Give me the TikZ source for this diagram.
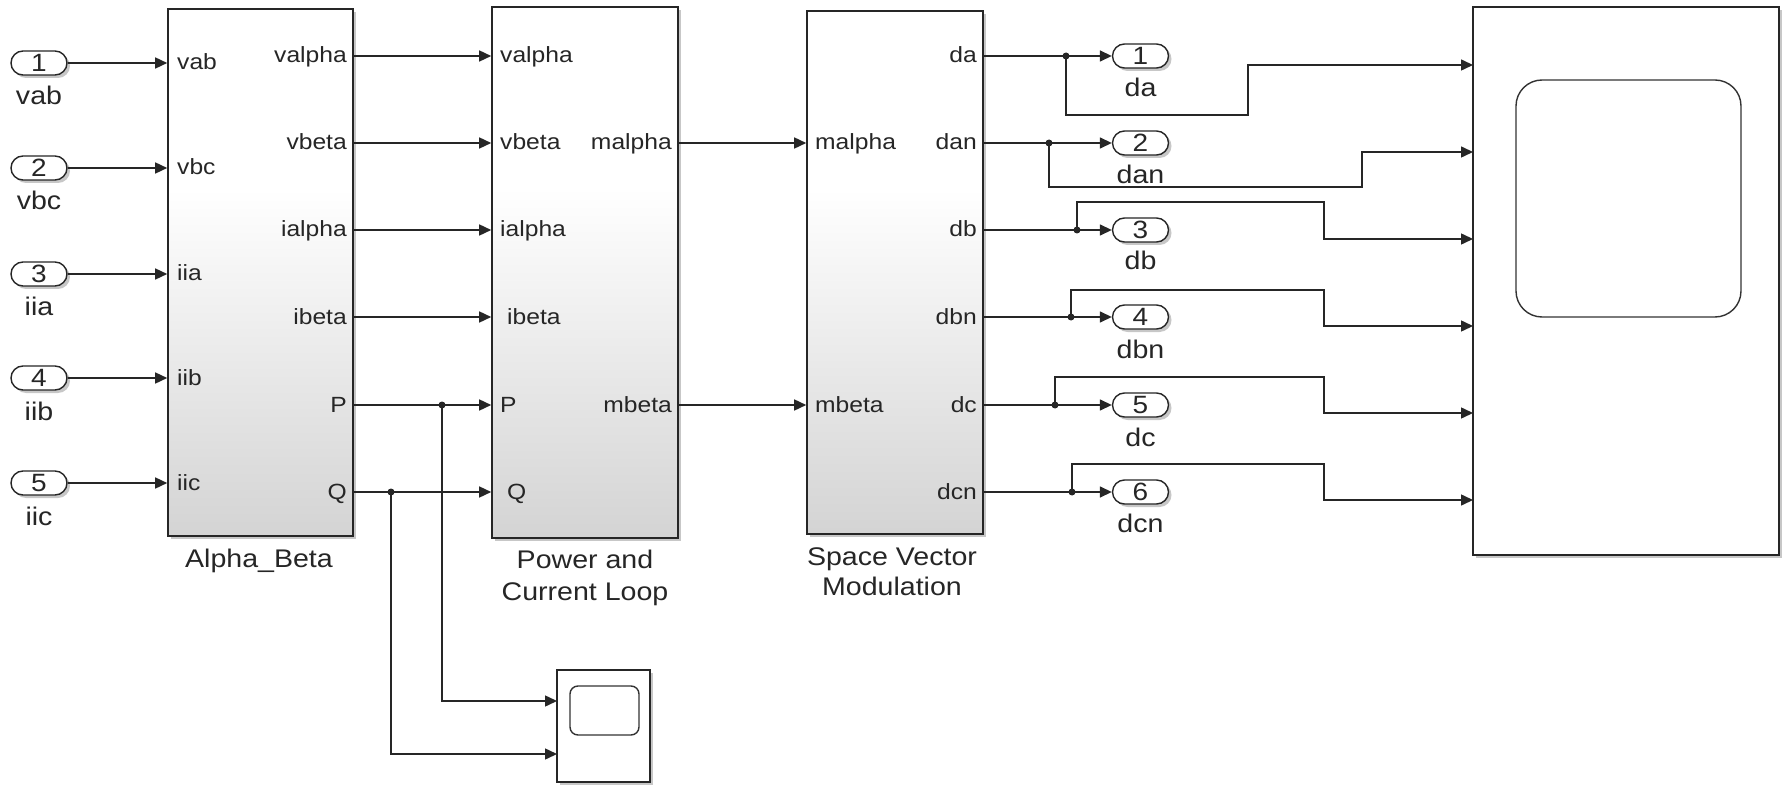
\documentclass[tikz,border=0pt]{standalone}
\usepackage{fontspec}
\setmainfont{Liberation Sans}[FakeStretch=1.12]
\usetikzlibrary{arrows.meta,shapes.misc,shadows,calc}
\pgfdeclareverticalshading{simshade}{100bp}{color(0bp)=(black!17); color(25bp)=(black!17); color(58bp)=(white); color(100bp)=(white)}
\begin{document}
\begin{tikzpicture}[x=1pt,y=-1pt,
  wire/.style={line width=1.5pt, draw=black!85},
  sig/.style={wire, -{Triangle[length=12pt,width=11pt]}},
  shad/.style={drop shadow={shadow xshift=3pt, shadow yshift=-3pt, fill=black, opacity=0.22}},
  blk/.style={rectangle, draw=black!85, line width=1.6pt, shading=simshade, shad, inner sep=0pt},
  scopebox/.style={rectangle, draw=black!85, line width=1.6pt, fill=white, shad, inner sep=0pt},
  screen/.style={rectangle, draw=black!80, line width=1.4pt, inner sep=0pt},
  port/.style={rounded rectangle, draw=black!85, line width=1.4pt, minimum width=56pt, minimum height=24pt, inner sep=0pt, fill=white, shad, font=\fontsize{25}{25}\selectfont, text=black!85},
  plab/.style={font=\fontsize{22}{26}\selectfont, inner sep=0pt, text=black!85},
  nlab/.style={font=\fontsize{25.5}{32}\selectfont, inner sep=0pt, text=black!85, align=center},
  dot/.style={circle, fill=black!85, inner sep=0pt, minimum size=7pt}]
\fill[white] (0,0) rectangle (1788,786);
\useasboundingbox (0,0) rectangle (1788,786);

% rows
\coordinate (r1) at (0,56);
\coordinate (r2) at (0,143);
\coordinate (r3) at (0,230);
\coordinate (r4) at (0,317);
\coordinate (r5) at (0,405);
\coordinate (r6) at (0,492);

% blocks
\node[blk, minimum width=185pt, minimum height=527pt] (ab) at (260.5,272.5) {};
\node[blk, minimum width=186pt, minimum height=531pt] (pw) at (585,272.5) {};
\node[blk, minimum width=176pt, minimum height=523pt] (svm) at (895,272.5) {};
\node[scopebox, minimum width=306pt, minimum height=548pt] (sc) at (1626,281) {};
\node[screen, minimum width=225pt, minimum height=237pt, rounded corners=26pt] (scr) at (1628.5,198.5) {};
\node[scopebox, minimum width=93pt, minimum height=112pt] (ss) at (603.5,726) {};
\node[screen, minimum width=69pt, minimum height=49pt, rounded corners=8pt] (sscr) at (604.5,710.5) {};

% block names
\node[nlab, anchor=base] (abn) at (259,567) {Alpha\_Beta};
\node[nlab, anchor=base] (pwn1) at (585,568) {Power and};
\node[nlab, anchor=base] (pwn2) at (585,600) {Current Loop};
\node[nlab, anchor=base] (svn1) at (892,565) {Space Vector};
\node[nlab, anchor=base] (svn2) at (892,595) {Modulation};

% Alpha_Beta port labels
\node[plab, anchor=base west] (l1) at (177,70) {vab};
\node[plab, anchor=base west] (l2) at (177,175) {vbc};
\node[plab, anchor=base west] (l3) at (177,281) {iia};
\node[plab, anchor=base west] (l4) at (177,385) {iib};
\node[plab, anchor=base west] (l5) at (177,490) {iic};
\node[plab, anchor=base east] (l6) at (347,63) {valpha};
\node[plab, anchor=base east] (l7) at (347,150) {vbeta};
\node[plab, anchor=base east] (l8) at (347,237) {ialpha};
\node[plab, anchor=base east] (l9) at (347,324) {ibeta};
\node[plab, anchor=base east] (l10) at (347,412) {P};
\node[plab, anchor=base east] (l11) at (347,499) {Q};
% Power port labels
\node[plab, anchor=base west] (l12) at (500,63) {valpha};
\node[plab, anchor=base west] (l13) at (500,150) {vbeta};
\node[plab, anchor=base west] (l14) at (500,237) {ialpha};
\node[plab, anchor=base west] (l15) at (507,324) {ibeta};
\node[plab, anchor=base west] (l16) at (500,412) {P};
\node[plab, anchor=base west] (l17) at (507,499) {Q};
\node[plab, anchor=base east] (l18) at (672,150) {malpha};
\node[plab, anchor=base east] (l19) at (672,412) {mbeta};
% SVM port labels
\node[plab, anchor=base west] (l20) at (815,150) {malpha};
\node[plab, anchor=base west] (l21) at (815,412) {mbeta};
\node[plab, anchor=base east] (l22) at (977,63) {da};
\node[plab, anchor=base east] (l23) at (977,150) {dan};
\node[plab, anchor=base east] (l24) at (977,237) {db};
\node[plab, anchor=base east] (l25) at (977,324) {dbn};
\node[plab, anchor=base east] (l26) at (977,412) {dc};
\node[plab, anchor=base east] (l27) at (977,499) {dcn};

% inports
\node[port] (in1) at (39,63) {1};
\node[port] (in2) at (39,168) {2};
\node[port] (in3) at (39,274) {3};
\node[port] (in4) at (39,378) {4};
\node[port] (in5) at (39,483) {5};
\node[nlab, anchor=base] (in1l) at (39,105) {vab};
\node[nlab, anchor=base] (in2l) at (39,210) {vbc};
\node[nlab, anchor=base] (in3l) at (39,316) {iia};
\node[nlab, anchor=base] (in4l) at (39,420) {iib};
\node[nlab, anchor=base] (in5l) at (39,525) {iic};

% outports
\node[port] (o1) at (1140.5,56) {1};
\node[port] (o2) at (1140.5,143) {2};
\node[port] (o3) at (1140.5,230) {3};
\node[port] (o4) at (1140.5,317) {4};
\node[port] (o5) at (1140.5,405) {5};
\node[port] (o6) at (1140.5,492) {6};
\node[nlab, anchor=base] (o1l) at (1140.5,97) {da};
\node[nlab, anchor=base] (o2l) at (1140.5,184) {dan};
\node[nlab, anchor=base] (o3l) at (1140.5,270) {db};
\node[nlab, anchor=base] (o4l) at (1140.5,358) {dbn};
\node[nlab, anchor=base] (o5l) at (1140.5,446) {dc};
\node[nlab, anchor=base] (o6l) at (1140.5,532) {dcn};

% inport wires
\foreach \i in {1,...,5} {\draw[sig] (in\i.east) -- (in\i.east -| ab.west);}

% Alpha_Beta -> Power
\foreach \r in {1,...,6} {\draw[sig] (ab.east |- r\r) -- (pw.west |- r\r);}

% Power -> SVM
\draw[sig] (pw.east |- r2) -- (svm.west |- r2);
\draw[sig] (pw.east |- r5) -- (svm.west |- r5);

% SVM -> outports
\foreach \r in {1,...,6} {\draw[sig] (svm.east |- r\r) -- (o\r.west);}

% P and Q branches to small scope
\node[dot] (jp) at (442,405) {};
\node[dot] (jq) at (391,492) {};
\coordinate (ssin1) at (557,701);
\coordinate (ssin2) at (557,754);
\draw[sig] (jp.center) |- (ssin1);
\draw[sig] (jq.center) |- (ssin2);

% branches to big scope
\node[dot] (j1) at (1066,56) {};
\node[dot] (j2) at (1049,143) {};
\node[dot] (j3) at (1077,230) {};
\node[dot] (j4) at (1071,317) {};
\node[dot] (j5) at (1055,405) {};
\node[dot] (j6) at (1072,492) {};
\coordinate (s1) at (1473,65);
\coordinate (s2) at (1473,152);
\coordinate (s3) at (1473,239);
\coordinate (s4) at (1473,326);
\coordinate (s5) at (1473,413);
\coordinate (s6) at (1473,500);
\draw[sig] (j1.center) -- (1066,115) -- (1248,115) -- (1248,65) -- (s1);
\draw[sig] (j2.center) -- (1049,187) -- (1362,187) -- (1362,152) -- (s2);
\draw[sig] (j3.center) -- (1077,202) -- (1324,202) -- (1324,239) -- (s3);
\draw[sig] (j4.center) -- (1071,290) -- (1324,290) -- (1324,326) -- (s4);
\draw[sig] (j5.center) -- (1055,377) -- (1324,377) -- (1324,413) -- (s5);
\draw[sig] (j6.center) -- (1072,464) -- (1324,464) -- (1324,500) -- (s6);
\end{tikzpicture}
\end{document}
